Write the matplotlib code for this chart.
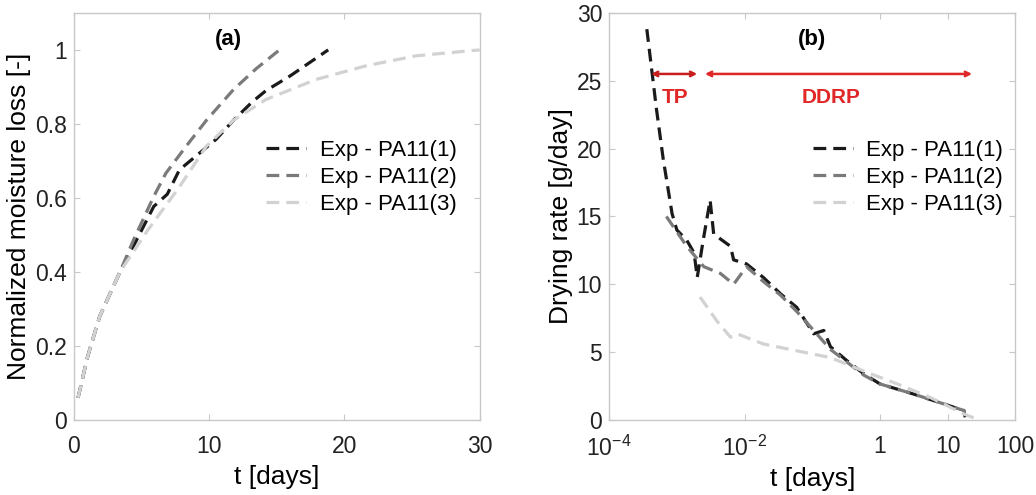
import numpy as np
import matplotlib
matplotlib.use("Agg")
import matplotlib.pyplot as plt

plt.rcParams['font.family'] = ['Liberation Sans', 'DejaVu Sans']
plt.rcParams['mathtext.fontset'] = 'custom'
plt.rcParams['mathtext.rm'] = 'Liberation Sans'
plt.rcParams['mathtext.it'] = 'Liberation Sans:italic'
plt.rcParams['mathtext.bf'] = 'Liberation Sans:bold'

# panel (a): normalized moisture loss vs time
t1 = [0.3, 1.0, 1.9, 3.4, 4.4, 5.9, 6.9, 7.8, 10.5, 11.8, 13.2, 14.2, 16.0, 18.8]
m1 = [0.06, 0.17, 0.28, 0.40, 0.47, 0.577, 0.61, 0.676, 0.758, 0.81, 0.86, 0.89, 0.93, 1.0]
t2 = [0.3, 1.0, 1.9, 3.4, 4.4, 5.9, 6.8, 8.3, 9.8, 11.8, 13.5, 15.2]
m2 = [0.06, 0.17, 0.28, 0.40, 0.486, 0.604, 0.667, 0.74, 0.81, 0.893, 0.95, 1.0]
t3 = [0.3, 1.0, 1.9, 3.4, 5.4, 7.8, 9.8, 11.8, 14.2, 17.9, 21.6, 25.3, 30.0]
m3 = [0.06, 0.17, 0.28, 0.40, 0.51, 0.63, 0.74, 0.81, 0.866, 0.92, 0.957, 0.984, 1.0]

# panel (b): drying rate vs time (log x)
r1_t = [3.6e-4, 5.0e-4, 6.3e-4, 7.6e-4, 8.5e-4, 1.0e-3, 1.4e-3, 1.8e-3, 2.0e-3, 2.45e-3,
        3.1e-3, 3.5e-3, 6.2e-3, 6.9e-3, 1.07e-2, 1.9e-2, 3.4e-2, 5.9e-2, 0.105, 0.148,
        0.186, 0.32, 0.58, 1.0, 3.2, 17.4, 18.2]
r1 = [28.8, 22.9, 19.2, 16.7, 15.2, 14.0, 13.25, 12.3, 10.5, 13.25,
      16.2, 13.7, 12.8, 11.8, 11.5, 10.5, 9.3, 8.3, 6.35, 6.6,
      5.4, 4.4, 3.4, 2.66, 1.9, 0.7, 0.2]
r2_t = [7.0e-4, 1.4e-3, 2.5e-3, 4.4e-3, 6.9e-3, 1.07e-2, 1.9e-2, 3.4e-2, 5.9e-2, 0.105,
        0.186, 0.32, 0.58, 1.0, 3.2, 17.4, 18.2]
r2 = [15.0, 12.8, 11.3, 10.8, 10.0, 11.3, 10.2, 9.2, 8.0, 6.6,
      5.2, 4.3, 3.3, 2.66, 1.9, 0.7, 0.2]
r3_t = [2.2e-3, 3.9e-3, 6.2e-3, 7.8e-3, 1.9e-2, 5.9e-2, 0.186, 0.58, 1.8, 5.5, 17.4, 27.0]
r3 = [9.06, 7.3, 6.1, 6.35, 5.6, 5.1, 4.6, 3.6, 2.66, 1.67, 0.44, 0.07]

labels = ['Exp - PA11(1)', 'Exp - PA11(2)', 'Exp - PA11(3)']
colors = ['#1a1a1a', '#7a7a7a', '#d2d2d2']

fig = plt.figure(figsize=(10.36, 4.95), dpi=100)
axa = fig.add_axes([0.0714, 0.1515, 0.3916, 0.8225])
axb = fig.add_axes([0.588, 0.1515, 0.392, 0.8225])

dash = (0, (4, 2.2))
for t, m, c, lab in zip([t1, t2, t3], [m1, m2, m3], colors, labels):
    axa.plot(t, m, color=c, lw=2.3, ls=dash, label=lab)
axa.set_xlim(0, 30)
axa.set_ylim(0, 1.1)
axa.set_xticks([0, 10, 20, 30])
axa.set_yticks([0, 0.2, 0.4, 0.6, 0.8, 1.0])
axa.set_yticklabels(['0', '0.2', '0.4', '0.6', '0.8', '1'])
axa.set_xlabel('t [days]', fontsize=19, labelpad=5)
axa.set_ylabel('Normalized moisture loss [-]', fontsize=19, labelpad=3)
axa.text(0.38, 0.935, '(a)', transform=axa.transAxes, fontsize=16,
         fontweight='bold', ha='center', va='center')
axa.legend(loc='upper left', bbox_to_anchor=(0.452, 0.71), frameon=False,
           fontsize=16, handlelength=1.8, handletextpad=0.6,
           labelspacing=0.28, borderaxespad=0)

for t, r, c, lab in zip([r1_t, r2_t, r3_t], [r1, r2, r3], colors, labels):
    axb.plot(t, r, color=c, lw=2.3, ls=dash, label=lab)
axb.set_xscale('log')
axb.set_xlim(1e-4, 100)
axb.set_ylim(0, 30)
axb.set_xticks([1e-4, 1e-2, 1, 10, 100])
axb.set_xticklabels(['$10^{-4}$', '$10^{-2}$', '1', '10', '100'])
axb.xaxis.set_minor_locator(matplotlib.ticker.NullLocator())
axb.set_yticks([0, 5, 10, 15, 20, 25, 30])
axb.set_xlabel('t [days]', fontsize=19, labelpad=5)
axb.set_ylabel('Drying rate [g/day]', fontsize=19, labelpad=3)
axb.text(0.5, 0.935, '(b)', transform=axb.transAxes, fontsize=16,
         fontweight='bold', ha='center', va='center')
axb.legend(loc='upper left', bbox_to_anchor=(0.48, 0.71), frameon=False,
           fontsize=16, handlelength=1.8, handletextpad=0.6,
           labelspacing=0.28, borderaxespad=0)

red = '#e02626'
axb.annotate('', xy=(2.0e-3, 25.5), xytext=(4.15e-4, 25.5),
             arrowprops=dict(arrowstyle='<->', color='#c81e1e', lw=1.8,
                             mutation_scale=8, shrinkA=0, shrinkB=0))
axb.annotate('', xy=(23, 25.5), xytext=(2.6e-3, 25.5),
             arrowprops=dict(arrowstyle='<->', color=red, lw=1.8,
                             mutation_scale=8, shrinkA=0, shrinkB=0))
axb.text(9.5e-4, 23.8, 'TP', color=red, fontsize=15, fontweight='bold',
         ha='center', va='center')
axb.text(0.19, 23.8, 'DDRP', color=red, fontsize=15, fontweight='bold',
         ha='center', va='center')

for ax in (axa, axb):
    for s in ax.spines.values():
        s.set_color('#c8c8c8')
        s.set_linewidth(1.0)
    ax.tick_params(direction='in', length=4, color='#c8c8c8', labelsize=16.5,
                   top=True, right=True, labelcolor='#222222')
    ax.tick_params(axis='x', pad=11)
    ax.tick_params(axis='y', pad=5)

fig.savefig('out.png', dpi=100)
